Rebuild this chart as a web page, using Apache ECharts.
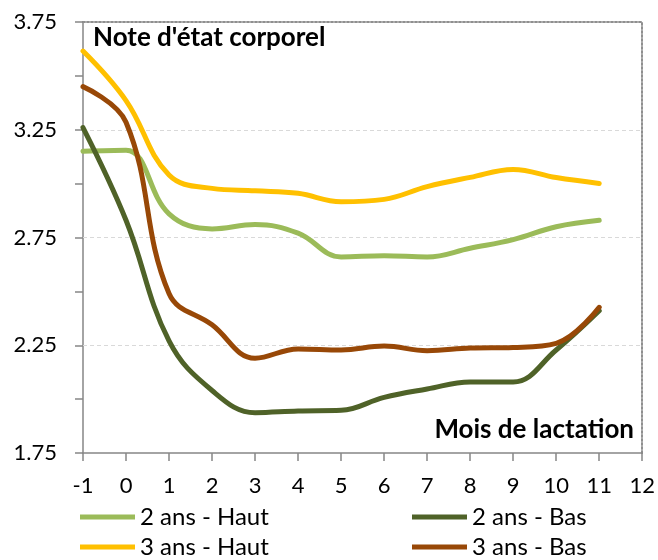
<!DOCTYPE html>
<html>
<head>
<meta charset="utf-8">
<script src="https://cdn.jsdelivr.net/npm/echarts@6/dist/echarts.min.js"></script>
<style>html,body{margin:0;padding:0;background:#fff;}#c{width:658px;height:560px;}</style>
</head>
<body>
<div id="c"></div>
<script>
var months = [-1, 0, 1, 2, 3, 4, 5, 6, 7, 8, 9, 10, 11];
var haut2 = [3.15, 3.155, 2.86, 2.79, 2.81, 2.77, 2.66, 2.665, 2.66, 2.70, 2.74, 2.80, 2.83];
var bas2  = [3.26, 2.83, 2.27, 2.04, 1.937, 1.945, 1.948, 2.008, 2.047, 2.08, 2.08, 2.228, 2.41];
var haut3 = [3.615, 3.385, 3.04, 2.978, 2.967, 2.955, 2.916, 2.927, 2.986, 3.029, 3.066, 3.028, 3.001];
var bas3  = [3.45, 3.285, 2.49, 2.345, 2.19, 2.233, 2.228, 2.246, 2.225, 2.237, 2.24, 2.259, 2.426];
var seriesNames = ['2 ans - Haut', '2 ans - Bas', '3 ans - Haut', '3 ans - Bas'];
var yTickLabels = ['1.75', '2.25', '2.75', '3.25', '3.75'];
var gridValues = [2.25, 2.75, 3.25];
var yTitle = "Note d'état corporel";
var xTitle = 'Mois de lactation';

var FONT = 'Lato';
var colors = ['#9BBB59', '#4F6228', '#FFC000', '#984807'];
function pairs(vals){ return months.map(function(m,i){ return [m, vals[i]]; }); }
var seriesData = [haut2, bas2, haut3, bas3];

var chart = echarts.init(document.getElementById('c'), null, {renderer: 'canvas'});
var series = seriesNames.map(function(n, i){
  var s = {
    name: n, type: 'line', data: pairs(seriesData[i]), smooth: 0.4,
    showSymbol: false, symbol: 'none',
    lineStyle: {width: 5, color: colors[i], cap: 'round', join: 'round'},
    itemStyle: {color: colors[i]}, z: 3
  };
  if (i === 0) {
    s.markLine = {
      silent: true, symbol: ['none', 'none'], z: 1,
      label: {show: false},
      lineStyle: {color: '#d9d9d9', type: [4, 3], width: 1},
      data: gridValues.map(function(v){ return {yAxis: v}; })
    };
  }
  return s;
});

// legend slots: [series index, left, top]
var legendSlots = [[0, 80, 504], [2, 80, 534], [1, 412, 504], [3, 412, 534]];
var legends = legendSlots.map(function(sl){
  return {
    left: sl[1], top: sl[2], padding: 0, orient: 'horizontal',
    itemWidth: 55, itemHeight: 5, icon: 'rect',
    data: [seriesNames[sl[0]]],
    textStyle: {fontSize: 24, lineHeight: 26, color: '#000', fontFamily: FONT}
  };
});

var dotted = {show: true, onZero: false, lineStyle: {color: '#8f8f8f', width: 2, type: [2, 2]}};
var solid = {show: true, onZero: false, lineStyle: {color: '#868686', width: 1.5}};

chart.setOption({
  animation: false,
  backgroundColor: '#fff',
  textStyle: {fontFamily: FONT},
  grid: {left: 83, right: 15, top: 22, bottom: 107},
  xAxis: [{
    type: 'value', min: -1, max: 12, interval: 1,
    axisLine: solid,
    axisTick: {show: true, length: 8, lineStyle: {color: '#868686', width: 1.5}},
    axisLabel: {color: '#000', fontSize: 22, fontFamily: FONT, margin: 22},
    splitLine: {show: false}
  }, {
    type: 'value', min: -1, max: 12, position: 'top',
    axisLine: dotted,
    axisTick: {show: false}, axisLabel: {show: false}, splitLine: {show: false}
  }],
  yAxis: [{
    type: 'value', min: 1.75, max: 3.75, interval: 0.25,
    axisLine: solid,
    axisTick: {show: true, length: 8, lineStyle: {color: '#868686', width: 1.5}},
    axisLabel: {color: '#000', fontSize: 22, fontFamily: FONT, margin: 26,
      formatter: function(v){ var t = v.toFixed(2); return yTickLabels.indexOf(t) >= 0 ? t : ''; }},
    splitLine: {show: false}
  }, {
    type: 'value', min: 1.75, max: 3.75, position: 'right',
    axisLine: dotted,
    axisTick: {show: false}, axisLabel: {show: false}, splitLine: {show: false}
  }],
  legend: legends,
  graphic: [{
    type: 'text', x: 93, y: 38, z: 10,
    style: {text: yTitle, font: 'bold 26px ' + FONT, fill: '#000', verticalAlign: 'middle', textVerticalAlign: 'middle'}
  }, {
    type: 'text', x: 634, y: 430, z: 10,
    style: {text: xTitle, font: 'bold 26px ' + FONT, fill: '#000', align: 'right', textAlign: 'right', verticalAlign: 'middle', textVerticalAlign: 'middle'}
  }],
  series: series
});
</script>
</body>
</html>
